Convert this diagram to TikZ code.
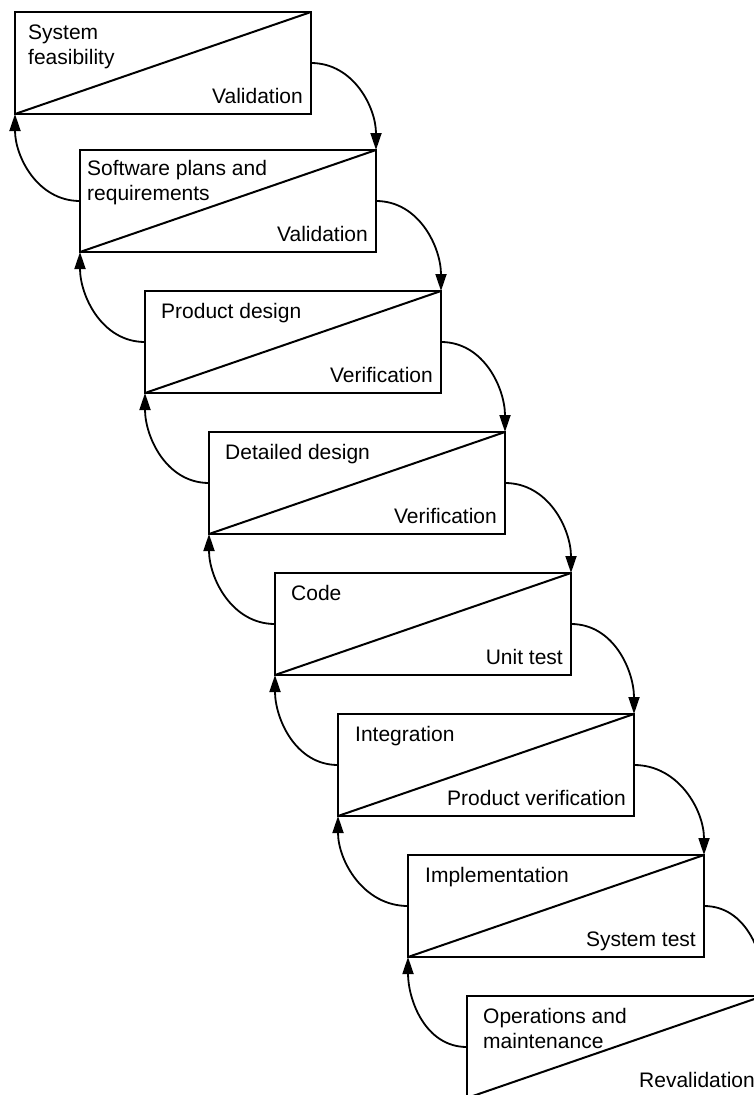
\documentclass[tikz,border=0pt]{standalone}
\usepackage{fontspec}
\setmainfont{Liberation Sans}
\usetikzlibrary{arrows.meta}
\begin{document}
\begin{tikzpicture}[x=1pt,y=1pt,
  stage/.style={draw, line width=2pt, minimum width=296pt, minimum height=102pt,
                inner sep=0pt, outer sep=0pt, anchor=north west},
  split/.style={line width=2pt},
  phase/.style={anchor=base west, inner sep=0pt, font=\fontsize{21}{25}\selectfont},
  check/.style={anchor=base east, inner sep=0pt, font=\fontsize{21}{25}\selectfont},
  flowtip/.style={-{Triangle[length=17pt,width=11pt]}},
  forward/.style={line width=1.8pt, flowtip, out=0, in=90},
  backward/.style={line width=1.8pt, flowtip, out=180, in=-90},
]
\useasboundingbox (0,0) rectangle (754,-1095);
\clip (0,0) rectangle (754,-1095);

% stage boxes, stepping down and to the right
\node[stage] (b1) at (15,-12)  {};
\node[stage] (b2) at (80,-150) {};
\node[stage] (b3) at (145,-291) {};
\node[stage] (b4) at (209,-432) {};
\node[stage] (b5) at (275,-573) {};
\node[stage] (b6) at (338,-714) {};
\node[stage] (b7) at (408,-855) {};
\node[stage] (b8) at (467,-996) {};

% diagonal split of each box
\foreach \b in {b1,b2,b3,b4,b5,b6,b7,b8}
  \draw[split] (\b.south west) -- (\b.north east);

% phase names (upper left)
\node[phase] (t1) at ([xshift=13pt,yshift=-27pt]b1.north west)
  {\begin{tabular}[t]{@{}l@{}}System\\feasibility\end{tabular}};
\node[phase] (t2) at ([xshift=7pt,yshift=-25pt]b2.north west)
  {\begin{tabular}[t]{@{}l@{}}Software plans and\\requirements\end{tabular}};
\node[phase] (t3) at ([xshift=16pt,yshift=-27pt]b3.north west) {Product design};
\node[phase] (t4) at ([xshift=16pt,yshift=-27pt]b4.north west) {Detailed design};
\node[phase] (t5) at ([xshift=16pt,yshift=-27pt]b5.north west) {Code};
\node[phase] (t6) at ([xshift=17pt,yshift=-27pt]b6.north west) {Integration};
\node[phase] (t7) at ([xshift=17pt,yshift=-27pt]b7.north west) {Implementation};
\node[phase] (t8) at ([xshift=16pt,yshift=-27pt]b8.north west)
  {\begin{tabular}[t]{@{}l@{}}Operations and\\maintenance\end{tabular}};

% checks (lower right)
\node[check] (c1) at ([xshift=-8pt,yshift=11pt]b1.south east) {Validation};
\node[check] (c2) at ([xshift=-8pt,yshift=11pt]b2.south east) {Validation};
\node[check] (c3) at ([xshift=-8pt,yshift=11pt]b3.south east) {Verification};
\node[check] (c4) at ([xshift=-8pt,yshift=11pt]b4.south east) {Verification};
\node[check] (c5) at ([xshift=-8pt,yshift=11pt]b5.south east) {Unit test};
\node[check] (c6) at ([xshift=-8pt,yshift=11pt]b6.south east) {Product verification};
\node[check] (c7) at ([xshift=-8pt,yshift=11pt]b7.south east) {System test};
\node[check] (c8) at ([xshift=-8pt,yshift=11pt]b8.south east) {Revalidation};

% forward flow: right side of one stage to the top-right corner of the next
\draw[forward] (b1.east) to (b2.north east);
\draw[forward] (b2.east) to (b3.north east);
\draw[forward] (b3.east) to (b4.north east);
\draw[forward] (b4.east) to (b5.north east);
\draw[forward] (b5.east) to (b6.north east);
\draw[forward] (b6.east) to (b7.north east);
\draw[forward] (b7.east) to (b8.north east);

% feedback: left side of one stage back to the bottom-left corner of the previous
\draw[backward] (b2.west) to (b1.south west);
\draw[backward] (b3.west) to (b2.south west);
\draw[backward] (b4.west) to (b3.south west);
\draw[backward] (b5.west) to (b4.south west);
\draw[backward] (b6.west) to (b5.south west);
\draw[backward] (b7.west) to (b6.south west);
\draw[backward] (b8.west) to (b7.south west);
\end{tikzpicture}
\end{document}
